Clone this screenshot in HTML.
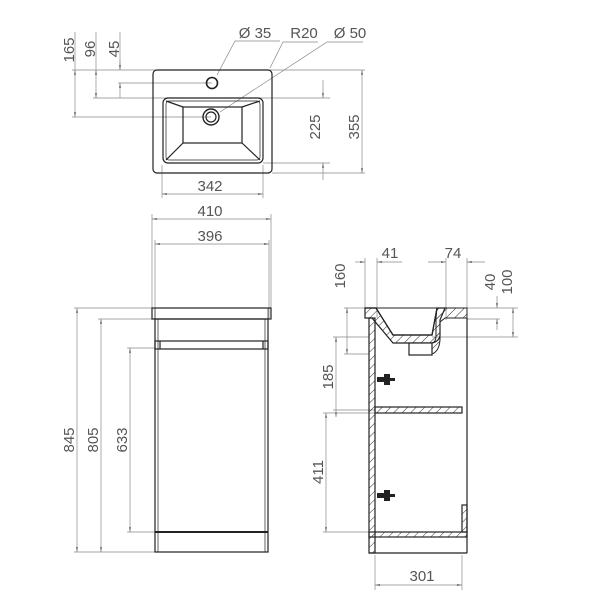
<!DOCTYPE html>
<html><head><style>body{margin:0;background:#fff}svg{display:block}text{font-family:"Liberation Sans",sans-serif;font-size:15px;fill:#555;text-anchor:middle}</style></head><body>
<svg width="600" height="600" viewBox="0 0 600 600" xmlns="http://www.w3.org/2000/svg">
<defs>
<marker id="a" viewBox="0 0 10 10" refX="10" refY="5" markerWidth="7" markerHeight="7" orient="auto-start-reverse"><path d="M0,3L10,5L0,7z" fill="#666"/></marker>
<pattern id="h" width="6" height="6" patternUnits="userSpaceOnUse" patternTransform="rotate(45)"><line x1="0" y1="0" x2="0" y2="6" stroke="#333" stroke-width="1"/></pattern>
</defs>
<g stroke="#888" stroke-width="0.7" fill="none">
<line x1="72" y1="70" x2="365" y2="70"/>
<line x1="118" y1="83" x2="212" y2="83"/>
<line x1="93" y1="98" x2="330" y2="98"/>
<line x1="72" y1="117" x2="211" y2="117"/>
<line x1="263" y1="163" x2="330" y2="163"/>
<line x1="272" y1="173" x2="365" y2="173"/>
<line x1="162" y1="165" x2="162" y2="198"/>
<line x1="263" y1="165" x2="263" y2="198"/>
<line x1="75" y1="32" x2="75" y2="70"/><line x1="96" y1="32" x2="96" y2="70"/><line x1="120" y1="32" x2="120" y2="70"/>
<line x1="75" y1="70" x2="75" y2="117" marker-start="url(#a)" marker-end="url(#a)"/>
<line x1="96" y1="70" x2="96" y2="98" marker-start="url(#a)" marker-end="url(#a)"/>
<line x1="120" y1="60" x2="120" y2="70" marker-end="url(#a)"/>
<line x1="120" y1="98" x2="120" y2="83" marker-end="url(#a)"/>
<line x1="323" y1="80" x2="323" y2="98" marker-end="url(#a)"/>
<line x1="323" y1="180" x2="323" y2="163" marker-end="url(#a)"/>
<line x1="362" y1="70" x2="362" y2="173" marker-start="url(#a)" marker-end="url(#a)"/>
<line x1="162" y1="194" x2="263" y2="194" marker-start="url(#a)" marker-end="url(#a)"/>
<polyline points="217,75 235,41 280,41"/>
<polyline points="270,68 283,42 318,42"/>
<polyline points="220,112 327,42 363,42"/>
<line x1="152" y1="214" x2="152" y2="308"/><line x1="271" y1="214" x2="271" y2="308"/>
<line x1="155" y1="240" x2="155" y2="319"/><line x1="269" y1="240" x2="269" y2="319"/>
<line x1="152" y1="219" x2="271" y2="219" marker-start="url(#a)" marker-end="url(#a)"/>
<line x1="155" y1="244" x2="269" y2="244" marker-start="url(#a)" marker-end="url(#a)"/>
<line x1="74" y1="308" x2="152" y2="308"/><line x1="98" y1="319" x2="155" y2="319"/>
<line x1="127" y1="348" x2="155" y2="348"/><line x1="127" y1="532" x2="155" y2="532"/>
<line x1="74" y1="552" x2="155" y2="552"/>
<line x1="77" y1="308" x2="77" y2="552" marker-start="url(#a)" marker-end="url(#a)"/>
<line x1="101" y1="319" x2="101" y2="552" marker-start="url(#a)" marker-end="url(#a)"/>
<line x1="130" y1="348" x2="130" y2="532" marker-start="url(#a)" marker-end="url(#a)"/>
<line x1="365" y1="258" x2="365" y2="308"/><line x1="377" y1="258" x2="377" y2="318"/>
<line x1="446" y1="258" x2="446" y2="320"/><line x1="467" y1="258" x2="467" y2="308"/>
<line x1="355" y1="262" x2="365" y2="262" marker-end="url(#a)"/>
<line x1="402" y1="262" x2="377" y2="262" marker-end="url(#a)"/>
<line x1="428" y1="262" x2="446" y2="262" marker-end="url(#a)"/>
<line x1="485" y1="262" x2="467" y2="262" marker-end="url(#a)"/>
<line x1="344" y1="308" x2="365" y2="308"/><line x1="344" y1="354" x2="369" y2="354"/>
<line x1="347" y1="308" x2="347" y2="354" marker-start="url(#a)" marker-end="url(#a)"/>
<line x1="467" y1="308" x2="518" y2="308"/><line x1="467" y1="319" x2="500" y2="319"/><line x1="432" y1="337" x2="518" y2="337"/>
<line x1="497" y1="296" x2="497" y2="308" marker-end="url(#a)"/>
<line x1="497" y1="330" x2="497" y2="319" marker-end="url(#a)"/>
<line x1="513" y1="308" x2="513" y2="337" marker-start="url(#a)" marker-end="url(#a)"/>
<line x1="333" y1="337" x2="369" y2="337"/><line x1="333" y1="410" x2="375" y2="410"/>
<line x1="336" y1="337" x2="336" y2="417" marker-start="url(#a)" marker-end="url(#a)"/>
<line x1="323" y1="413" x2="375" y2="413"/><line x1="323" y1="532" x2="369" y2="532"/>
<line x1="326" y1="413" x2="326" y2="532" marker-start="url(#a)" marker-end="url(#a)"/>
<line x1="375" y1="555" x2="375" y2="590"/><line x1="462" y1="555" x2="462" y2="590"/>
<line x1="375" y1="585" x2="462" y2="585" marker-start="url(#a)" marker-end="url(#a)"/>
</g>
<g stroke="#222" stroke-width="1.2" fill="none">
<rect x="153" y="70" width="119" height="103" rx="4"/>
<rect x="163" y="98" width="100" height="65" rx="5"/>
<rect x="166" y="101" width="94" height="59" rx="3" stroke-width="0.7"/>
<rect x="183" y="107" width="59" height="36"/>
<line x1="166" y1="101" x2="183" y2="107"/><line x1="260" y1="101" x2="242" y2="107"/>
<line x1="166" y1="160" x2="183" y2="143"/><line x1="260" y1="160" x2="242" y2="143"/>
<circle cx="212" cy="83" r="5.5" stroke-width="1.6"/>
<circle cx="211" cy="117" r="8" stroke-width="1.4"/><circle cx="211" cy="117" r="5"/>
<rect x="152" y="308" width="119" height="11"/>
<line x1="155" y1="308" x2="155" y2="319" stroke-width="0.7"/><line x1="268" y1="308" x2="268" y2="319" stroke-width="0.7"/>
<rect x="155" y="319" width="113" height="233"/>
<line x1="158" y1="319" x2="158" y2="552" stroke-width="0.7"/><line x1="265" y1="319" x2="265" y2="552" stroke-width="0.7"/>
<rect x="155" y="341" width="113" height="8"/>
<line x1="160" y1="341" x2="160" y2="349"/><line x1="263" y1="341" x2="263" y2="349"/>
<line x1="155" y1="532" x2="268" y2="532" stroke-width="2"/>
<path d="M365,308H467V318H445L440,322V340Q439,354 428,355H420V343H432Q436,342 436,336V318L437,308" fill="url(#h)" stroke-width="1"/>
<path d="M365,308H376L393,335H432L437,308" fill="none"/>
<path d="M376,308L393,335H432L437,308H445L440,320V336Q438,343 430,343H393L372,318H365V308Z" fill="url(#h)"/>
<rect x="409" y="343" width="23" height="12" fill="#fff"/>
<rect x="369" y="318" width="6" height="235" fill="url(#h)"/>
<line x1="467" y1="318" x2="467" y2="553"/>
<rect x="375" y="407" width="87" height="6" fill="url(#h)"/>
<rect x="369" y="532" width="98" height="5" fill="url(#h)"/>
<line x1="369" y1="553" x2="467" y2="553"/>
<rect x="462" y="505" width="5" height="27" fill="url(#h)"/>
</g>
<g fill="#222">
<rect x="377" y="377" width="8" height="5"/><rect x="384" y="374" width="6" height="11"/><rect x="381" y="378" width="14" height="3"/>
<rect x="377" y="493" width="8" height="5"/><rect x="384" y="490" width="6" height="11"/><rect x="381" y="494" width="14" height="3"/>
</g>
<text x="255" y="38">Ø 35</text><text x="304" y="38">R20</text><text x="350" y="38">Ø 50</text>
<text transform="translate(74,50) rotate(-90)">165</text>
<text transform="translate(95,49) rotate(-90)">96</text>
<text transform="translate(119,49) rotate(-90)">45</text>
<text transform="translate(320,127) rotate(-90)">225</text>
<text transform="translate(359,127) rotate(-90)">355</text>
<text x="210" y="191">342</text>
<text x="210" y="216">410</text><text x="210" y="241">396</text>
<text transform="translate(74,440) rotate(-90)">845</text>
<text transform="translate(98,440) rotate(-90)">805</text>
<text transform="translate(127,440) rotate(-90)">633</text>
<text x="390" y="258">41</text><text x="453" y="258">74</text>
<text transform="translate(345,276) rotate(-90)">160</text>
<text transform="translate(495,282) rotate(-90)">40</text>
<text transform="translate(512,282) rotate(-90)">100</text>
<text transform="translate(333,377) rotate(-90)">185</text>
<text transform="translate(323,472) rotate(-90)">411</text>
<text x="422" y="581">301</text>
</svg>
</body></html>
